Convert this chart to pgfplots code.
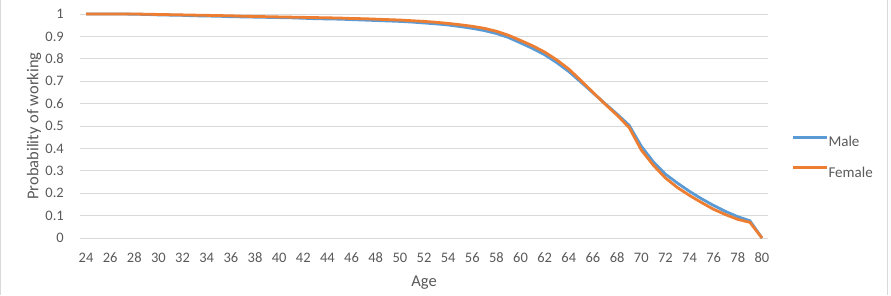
\documentclass[border=0pt]{standalone}
\usepackage{pgfplots}
\pgfplotsset{compat=1.18}
\usepackage{pgfplotstable}
\usepackage{fontspec}
\setmainfont{Carlito}
\definecolor{maleblue}{HTML}{5B9BD5}
\definecolor{femaleorange}{HTML}{ED7D31}
\definecolor{txt}{HTML}{595959}
\definecolor{gridc}{HTML}{D9D9D9}

\pgfplotstableread{
age male female
24 1.000 1.000
25 1.000 1.000
26 1.000 1.000
27 1.000 1.000
28 0.999 1.000
29 0.998 0.999
30 0.996 0.998
31 0.995 0.997
32 0.994 0.996
33 0.992 0.995
34 0.991 0.994
35 0.990 0.993
36 0.988 0.992
37 0.987 0.990
38 0.986 0.989
39 0.985 0.988
40 0.984 0.987
41 0.983 0.986
42 0.981 0.985
43 0.979 0.984
44 0.978 0.983
45 0.977 0.982
46 0.975 0.980
47 0.973 0.979
48 0.971 0.977
49 0.969 0.975
50 0.967 0.973
51 0.964 0.970
52 0.960 0.967
53 0.956 0.963
54 0.951 0.958
55 0.944 0.952
56 0.936 0.945
57 0.926 0.936
58 0.913 0.923
59 0.895 0.905
60 0.871 0.882
61 0.846 0.858
62 0.818 0.830
63 0.783 0.795
64 0.743 0.754
65 0.696 0.703
66 0.648 0.650
67 0.600 0.598
68 0.553 0.548
69 0.503 0.493
70 0.410 0.393
71 0.340 0.325
72 0.285 0.268
73 0.245 0.225
74 0.208 0.190
75 0.175 0.158
76 0.145 0.128
77 0.118 0.104
78 0.095 0.083
79 0.077 0.070
80 0.000 0.000
}\datatable

\begin{document}
\begin{tikzpicture}[x=1pt,y=1pt]
\path[use as bounding box] (-80,-57) rectangle (811,238);
\draw[gridc, line width=1pt] (-79.5,-57) -- (-79.5,238);
\draw[gridc, line width=1pt] (807,-57) -- (807,238);
\begin{axis}[
  at={(0pt,0pt)}, anchor=south west,
  scale only axis, width=688pt, height=224pt,
  xmin=23.5, xmax=80.5, ymin=0, ymax=1,
  xtick={24,26,...,80},
  ytick={0,0.1,0.2,0.3,0.4,0.5,0.6,0.7,0.8,0.9,1},
  yticklabels={0,0.1,0.2,0.3,0.4,0.5,0.6,0.7,0.8,0.9,1},
  /pgf/number format/assume math mode=true,
  major tick length=0pt,
  axis line style={draw=none},
  ymajorgrids, grid style={gridc, line width=1pt},
  clip=false,
  tick label style={font=\fontsize{14.5}{16}\selectfont, text=txt, inner sep=0pt},
  xticklabel style={anchor=center, yshift=-20pt},
  yticklabel style={anchor=east, xshift=-16pt},
  xlabel={Age}, ylabel={Probability of working},
  label style={font=\fontsize{16.5}{19}\selectfont, text=txt, inner sep=0pt},
  xlabel style={at={(axis description cs:0.5,0)}, anchor=center, yshift=-45pt},
  ylabel style={at={(axis description cs:-0.0669,0.5)}, anchor=center},
  legend style={draw=none, fill=none, at={(axis description cs:1,0)}, anchor=north west,
    xshift=23.5pt, yshift=102pt, inner sep=0pt, outer sep=0pt, row sep=18pt,
    nodes={inner sep=0pt, text=txt, font=\fontsize{15}{17}\selectfont}},
  legend cell align=left,
  legend image code/.code={\draw[#1, line width=3pt] (0pt,4.8pt) -- (34pt,4.8pt);},
]
\addplot[maleblue, line width=2.8pt, line join=round] table[x=age, y=male] {\datatable};
\addlegendentry{Male}
\addplot[femaleorange, line width=2.8pt, line join=round] table[x=age, y=female] {\datatable};
\addlegendentry{Female}
\end{axis}
\end{tikzpicture}
\end{document}
